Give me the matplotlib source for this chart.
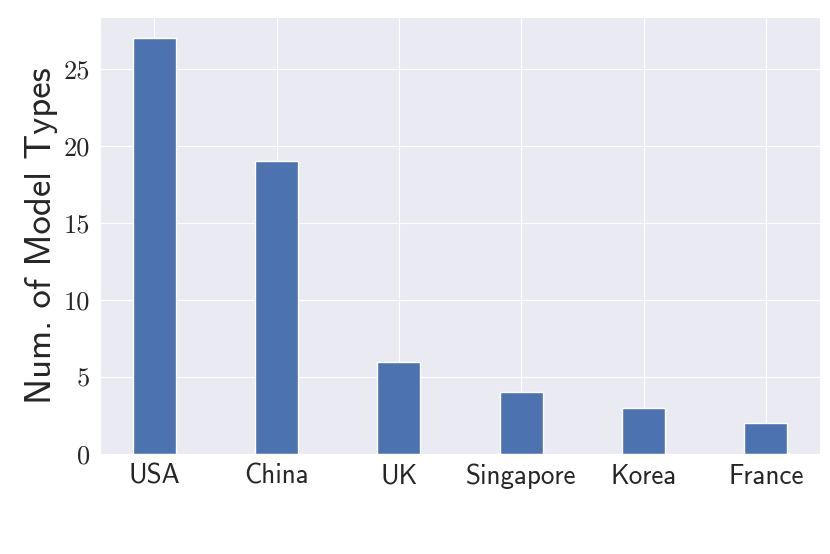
import os
import numpy as np
import matplotlib
matplotlib.use('Agg')
import matplotlib.pyplot as plt
from matplotlib.font_manager import FontProperties
import seaborn as sns

# ── data ─────────────────────────────────────────────
countries = ['USA', 'China', 'UK', 'Singapore', 'Korea', 'France']
num_types = [27, 19, 6, 4, 3, 2]

sns.set_style('darkgrid')

# Computer Modern fonts shipped with matplotlib (looks like the LaTeX output)
ttf_dir = os.path.join(matplotlib.get_data_path(), 'fonts', 'ttf')
sans = os.path.join(ttf_dir, 'cmss10.ttf')
serif = os.path.join(ttf_dir, 'cmr10.ttf')

fig = plt.figure(figsize=(8.3, 5.54), dpi=100)
ax = fig.add_axes([0.1205, 0.1805, 0.8675, 0.788])

x = np.arange(len(countries))
ax.bar(x, num_types, width=0.35, color='#4C72B0', edgecolor='white', linewidth=1.0)

ax.set_xticks(x)
ax.set_xticklabels(countries, font=FontProperties(fname=sans, size=19.5), color='#262626')
for lab in ax.get_yticklabels():
    lab.set_fontproperties(FontProperties(fname=serif, size=19))
    lab.set_color('#262626')
ax.set_ylabel('Num. of Model Types', font=FontProperties(fname=sans, size=26.5), color='#262626')

fig.savefig('out.png', dpi=100)
